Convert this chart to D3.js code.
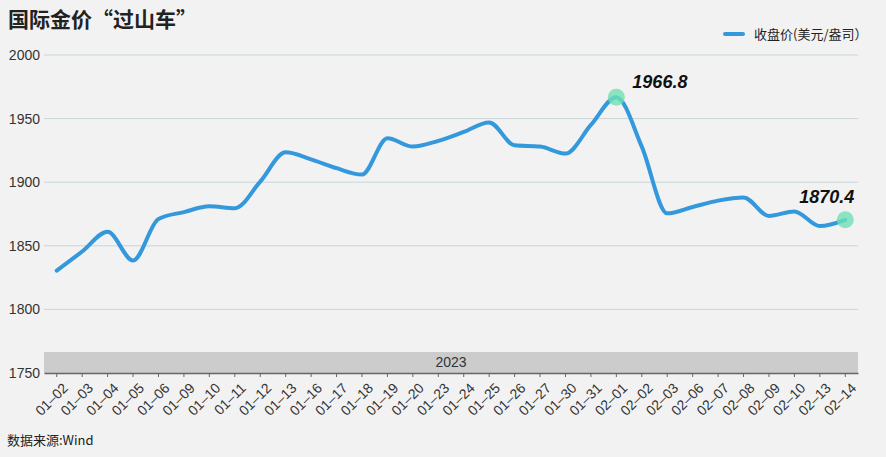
<!DOCTYPE html>
<html><head><meta charset="utf-8">
<script src="https://cdn.jsdelivr.net/npm/d3@7"></script>
<style>
html,body{margin:0;padding:0;background:#f2f2f2;}
svg{display:block;font-family:"Liberation Sans","Noto Sans CJK SC",Arial,sans-serif;}
</style></head><body>
<svg id="c" width="886" height="457"></svg>
<script>
const dates = ["01-02","01-03","01-04","01-05","01-06","01-09","01-10","01-11","01-12","01-13","01-16","01-17","01-18","01-19","01-20","01-23","01-24","01-25","01-26","01-27","01-30","01-31","02-01","02-02","02-03","02-06","02-07","02-08","02-09","02-10","02-13","02-14"];
const closes = [1830.5,1845.5,1861,1838.5,1871,1876.5,1881,1879.5,1900.5,1923.5,1918,1911,1906,1934.5,1928,1932.5,1939.5,1947,1929,1928,1922.5,1945,1966.8,1928,1875.5,1880.5,1885.5,1888,1873.5,1877,1865.5,1870.4];
const yTicks = [1750,1800,1850,1900,1950,2000];
const highlights = [22, 31];
const title = "国际金价“过山车”";
const legendLabel = "收盘价(美元/盎司）";
const yearLabel = "2023";
const source = "数据来源:Wind";

const svg = d3.select("#c");
const L = 44, R = 858, T = 55, B = 373;
const x = d3.scaleBand().domain(dates).range([L, R]);
const y = d3.scaleLinear().domain([1750, 2000]).range([B, T]);
const cx = d => x(d) + x.bandwidth()/2;

// title
svg.append("text").attr("x", 8).attr("y", 27).attr("font-size", 21).attr("font-weight", "bold")
  .attr("fill", "#222").attr("font-family", "'Noto Sans CJK SC',sans-serif").text(title);

// legend
svg.append("line").attr("x1", 725).attr("x2", 743).attr("y1", 34).attr("y2", 34)
  .attr("stroke", "#3398dc").attr("stroke-width", 4).attr("stroke-linecap", "round");
svg.append("text").attr("x", 754).attr("y", 39).attr("font-size", 13).attr("fill", "#222")
  .attr("font-family", "'Noto Sans CJK SC',sans-serif").text(legendLabel);

// grid
svg.append("g").selectAll("line").data(yTicks.filter(v => v > 1750)).join("line")
  .attr("x1", L).attr("x2", R).attr("y1", d => y(d)).attr("y2", d => y(d))
  .attr("stroke", "#c9d6d8").attr("stroke-width", 1);

// year band
svg.append("rect").attr("x", L).attr("width", R - L).attr("y", 352).attr("height", B - 352).attr("fill", "#cccccc");
svg.append("text").attr("x", (L + R)/2).attr("y", 367).attr("text-anchor", "middle")
  .attr("font-size", 14).attr("fill", "#333").text(yearLabel);

// y axis labels
const ya = svg.append("g").attr("transform", `translate(${L},0)`)
  .call(d3.axisLeft(y).tickValues(yTicks).tickSize(0).tickPadding(4).tickFormat(d3.format("d")));
ya.select(".domain").remove();
ya.selectAll("text").attr("font-size", 14).attr("fill", "#333").attr("font-family", "'Liberation Sans',Arial,sans-serif");

// x axis
const xa = svg.append("g").attr("transform", `translate(0,${B})`)
  .call(d3.axisBottom(x).tickSize(4).tickSizeOuter(0).tickFormat(d => d.replace("-", "–")));
xa.select(".domain").attr("stroke", "#666").attr("stroke-width", 1.5);
xa.selectAll(".tick line").attr("stroke", "#666");
xa.selectAll("text").attr("font-size", 14).attr("fill", "#333")
  .attr("font-family", "'Liberation Sans',Arial,sans-serif")
  .attr("text-anchor", "end").attr("dy", 0)
  .attr("transform", "translate(7,11) rotate(-45)");

// line
const line = d3.line().x((d, i) => cx(dates[i])).y(d => y(d)).curve(d3.curveMonotoneX);
svg.append("path").datum(closes).attr("d", line).attr("fill", "none")
  .attr("stroke", "#3398dc").attr("stroke-width", 4).attr("stroke-linejoin", "round").attr("stroke-linecap", "round");

// highlights
svg.append("g").selectAll("circle").data(highlights).join("circle")
  .attr("cx", i => cx(dates[i])).attr("cy", i => y(closes[i])).attr("r", 8.5)
  .attr("fill", "#6fe0b4").attr("opacity", 0.8);
svg.append("g").selectAll("text").data(highlights).join("text")
  .attr("x", i => cx(dates[i]) + (i === 22 ? 16 : -46)).attr("y", i => y(closes[i]) - (i === 22 ? 9 : 17))
  .attr("font-size", 18).attr("font-weight", "bold").attr("font-style", "italic").attr("fill", "#111")
  .attr("font-family", "'Liberation Sans',Arial,sans-serif")
  .text(i => closes[i].toFixed(1));

// source
svg.append("text").attr("x", 7).attr("y", 445).attr("font-size", 13).attr("fill", "#222")
  .attr("font-family", "'Noto Sans CJK SC',sans-serif").text(source);
</script></body></html>
